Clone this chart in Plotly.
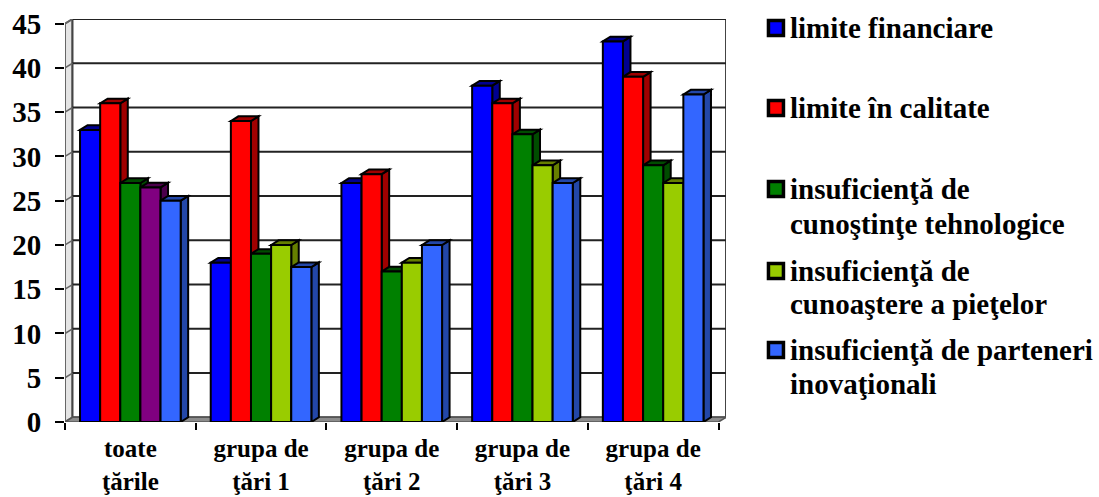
import plotly.graph_objects as go

categories = ["toate<br>ţările", "grupa de<br>ţări 1", "grupa de<br>ţări 2", "grupa de<br>ţări 3", "grupa de<br>ţări 4"]
limite_financiare = [33, 18, 27, 38, 43]
limite_calitate = [36, 34, 28, 36, 39]
insuf_tehnologice = [27, 19, 17, 32.5, 29]
insuf_piete = [26.5, 20, 18, 29, 27]
insuf_parteneri = [25, 17.5, 20, 27, 37]
series_names = ["limite financiare", "limite în calitate",
                "insuficienţă de<br>cunoştinţe tehnologice",
                "insuficienţă de<br>cunoaştere a pieţelor",
                "insuficienţă de parteneri<br>inovaţionali"]
series_values = [limite_financiare, limite_calitate, insuf_tehnologice, insuf_piete, insuf_parteneri]
y_ticks = [0, 5, 10, 15, 20, 25, 30, 35, 40, 45]

W, H = 1099, 497
L, R, T, B = 64.5, 726, 19, 422
DX = 7.5 / 130.8          # depth in category units
DY = 4.7 / 8.844          # depth in value units
GAP = 0.23
BW = (1 - GAP) / 5

colors = ["#0000FF", "#FF0000", "#008000", "#99CC00", "#3366FF"]
shades = ["#000090", "#A00000", "#004C00", "#667F00", "#2347A8"]
front_colors = [[c] * 5 for c in colors]
side_colors = [[c] * 5 for c in shades]
front_colors[3][0] = "#800080"
side_colors[3][0] = "#4C004C"

shapes = []


def poly(points, fill=None, line="black", width=2, xref="x", yref="y", layer="below"):
    path = "M " + " L ".join(f"{x},{y}" for x, y in points) + " Z"
    shapes.append(dict(type="path", path=path, xref=xref, yref=yref, layer=layer,
                       fillcolor=fill or "rgba(0,0,0,0)", line=dict(color=line, width=width)))


x0, x1 = -0.5, 4.5
# walls and floor
poly([(x0, 0), (x0 + DX, DY), (x0 + DX, 45 + DY), (x0, 45)], "#E4E4E4", "#666666", 2)
poly([(x0 + DX, DY), (x1 + DX, DY), (x1 + DX, 45 + DY), (x0 + DX, 45 + DY)], "white", "#444444", 2)
poly([(x0, 0), (x1, 0), (x1 + DX, DY), (x0 + DX, DY)], "#8C8C8C", "#555555", 1.5)
# gridlines
for v in y_ticks[1:]:
    shapes.append(dict(type="line", xref="x", yref="y", layer="below", x0=x0 + DX, x1=x1 + DX,
                       y0=v + DY, y1=v + DY, line=dict(color="#222222", width=2)))
    shapes.append(dict(type="line", xref="x", yref="y", layer="below", x0=x0, x1=x0 + DX,
                       y0=v, y1=v + DY, line=dict(color="#666666", width=1.5)))
# bar depth faces, computed from the values
for c in range(5):
    for s in range(5):
        v = series_values[s][c]
        xl = c - 2.5 * BW + s * BW
        xr = xl + BW
        col = side_colors[s][c]
        poly([(xr, 0), (xr + DX, DY), (xr + DX, v + DY), (xr, v)], col)
        poly([(xl, v), (xl + DX, v + DY), (xr + DX, v + DY), (xr, v)], col)

fig = go.Figure()
for s in range(5):
    fig.add_bar(x=list(range(5)), y=series_values[s], name=series_names[s].replace("<br>", " "),
                marker=dict(color=front_colors[s], line=dict(color="black", width=2)),
                showlegend=False)


def px(x):
    return (x - L) / (R - L)


def py(y):
    return (B - y) / (B - T)


annotations = []
legend_lines = [[28], [108], [189, 224], [271, 304], [350, 384]]
for lines_y, name, col in zip(legend_lines, series_names, colors):
    for ly, part in zip(lines_y, name.split("<br>")):
        annotations.append(dict(xref="paper", yref="paper", x=px(788), y=py(ly), text=f"<b>{part}</b>",
                                showarrow=False, xanchor="left", yanchor="middle", align="left",
                                font=dict(family="Liberation Serif", size=29, color="black")))
    sy = lines_y[0]
    shapes.append(dict(type="rect", xref="paper", yref="paper", layer="above",
                       x0=px(768.5), x1=px(783.5), y0=py(sy - 7.5), y1=py(sy + 7.5),
                       fillcolor=col, line=dict(color="black", width=3.5)))

fig.update_layout(
    width=W, height=H, autosize=False,
    margin=dict(l=L, r=W - R, t=T, b=H - B, pad=0),
    paper_bgcolor="white", plot_bgcolor="rgba(0,0,0,0)",
    barmode="group", bargap=GAP, bargroupgap=0,
    shapes=shapes, annotations=annotations, showlegend=False,
    font=dict(family="Liberation Serif", color="black"),
    xaxis=dict(type="category", tickmode="array", tickvals=list(range(5)), ticktext=[f"<b>{c}</b>" for c in categories],
               range=[x0, x1 + DX], tickson="boundaries", ticks="outside", ticklen=7, tickwidth=1.5, tickcolor="black",
               showgrid=False, zeroline=False, showline=False, tickangle=0, automargin=False, ticklabelstandoff=9,
               tickfont=dict(family="Liberation Serif", size=25, color="black")),
    yaxis=dict(range=[0, 45 + DY], tickmode="array", tickvals=y_ticks, ticktext=[f"<b>{v}</b>" for v in y_ticks],
               ticks="outside", ticklen=9, tickwidth=1.5, tickcolor="black", automargin=False,
               showgrid=False, zeroline=False, showline=False, ticklabelstandoff=8,
               tickfont=dict(family="Liberation Serif", size=29, color="black")),
)
fig.write_html("out.html", config={"displayModeBar": False},
               post_script="document.body.style.margin='0';document.documentElement.style.overflow='hidden';")
